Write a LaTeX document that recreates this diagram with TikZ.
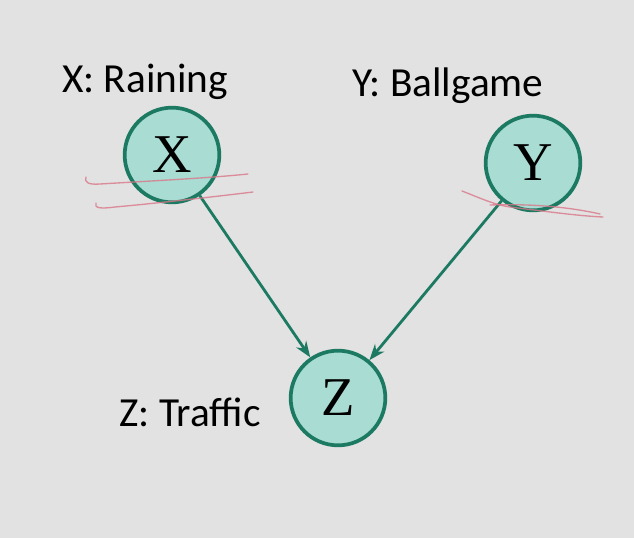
\documentclass[tikz,border=0pt]{standalone}
\usepackage{fontspec}
\setmainfont{Liberation Serif}
\newfontfamily\lblfont{Carlito}
\usetikzlibrary{arrows.meta}
\definecolor{bgGray}{HTML}{E2E2E2}
\definecolor{nodeFill}{HTML}{A9DCD2}
\definecolor{nodeLine}{HTML}{1C7A62}
\definecolor{penRed}{HTML}{D9778A}
\tikzset{
  varnode/.style={circle,draw=nodeLine,fill=nodeFill,line width=2.8pt,minimum size=71pt,inner sep=0pt,font=\fontsize{41}{44}\selectfont},
  varlabel/.style={font=\lblfont\fontsize{31}{35}\selectfont,text=black,inner sep=0pt},
  causal/.style={draw=nodeLine,line width=2.1pt,-{Stealth[length=12pt,width=9pt]}},
  scribble/.style={draw=penRed,line width=1pt,opacity=0.8,line cap=round}
}
\begin{document}
\begin{tikzpicture}[x=0.75pt,y=0.75pt,yscale=-1,xscale=1]
%background
\fill[bgGray] (0,0) rectangle (634,538);
\useasboundingbox (0,0) rectangle (634,538);

%Shape: Circle
\node[varnode] (X) at (172,155) {X};
\node[varnode] (Y) at (533,163) {Y};
\node[varnode] (Z) at (338,398) {Z};

%Text labels
\node[varlabel] (lblX) at (145,82) {X: Raining};
\node[varlabel] (lblY) at (448,86) {Y: Ballgame};
\node[varlabel] (lblZ) at (190,412) {Z: Traffic};

%Straight Lines
\draw[causal] (X) -- (Z);
\draw[causal] (Y) -- (Z);

%red pen marks
\draw[scribble] (86,177) .. controls (84,182) and (88,185) .. (100,184) .. controls (150,181) and (210,178) .. (248,174);
\draw[scribble] (96,203) .. controls (94,208) and (100,209) .. (115,207) .. controls (160,203) and (220,196) .. (253,192);
\draw[scribble] (462,191) .. controls (480,198) and (495,205) .. (510,207) .. controls (550,212) and (580,216) .. (603,217);
\draw[scribble] (490,205) .. controls (520,204) and (560,205) .. (600,214);
\end{tikzpicture}
\end{document}
